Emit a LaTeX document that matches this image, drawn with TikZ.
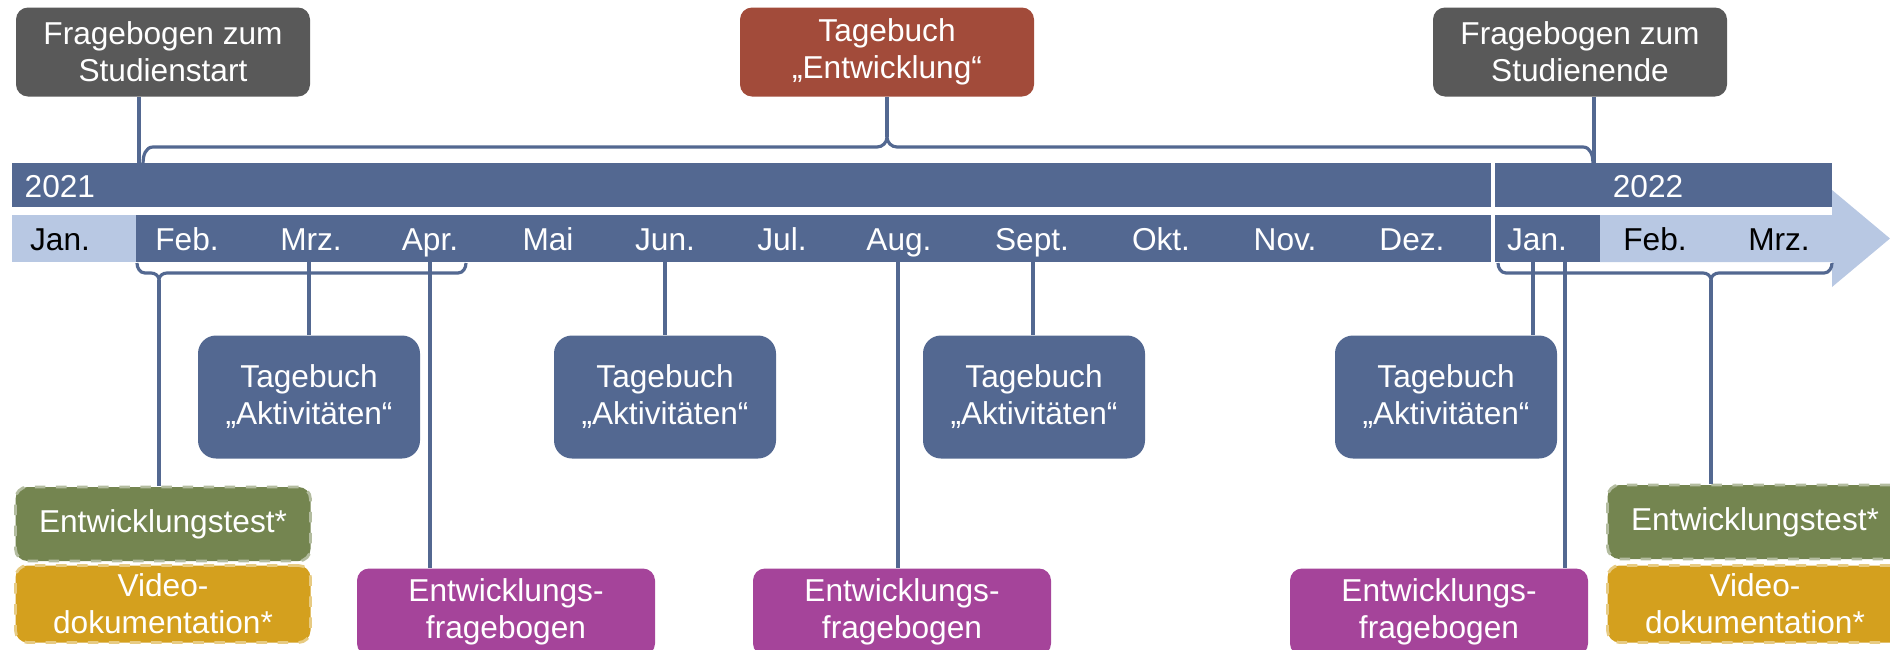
\documentclass[tikz,border=0pt]{standalone}
\usepackage{fontspec}
\setmainfont{Liberation Sans}
\definecolor{barblue}{RGB}{83, 104, 145}
\definecolor{paleblue}{RGB}{184, 200, 227}
\definecolor{boxgray}{RGB}{89, 89, 89}
\definecolor{rust}{RGB}{162, 75, 58}
\definecolor{mossgreen}{RGB}{116, 133, 80}
\definecolor{mustard}{RGB}{212, 160, 30}
\definecolor{plum}{RGB}{165, 68, 154}
\tikzset{
  lbl/.style={font=\fontsize{9}{10.5}\selectfont, inner sep=0pt},
  tick/.style={lbl, anchor=base},
  infobox/.style={lbl, align=center, text=white, rounded corners=1.2mm, minimum width=2.94cm, minimum height=0.89cm},
  diarybox/.style={infobox, fill=barblue, rounded corners=1.8mm, minimum width=2.22cm, minimum height=1.23cm},
  quizbox/.style={infobox, fill=plum, minimum width=2.98cm, minimum height=0.87cm},
  optbox/.style={infobox, dashed, line width=0.8pt, minimum width=2.95cm},
  link/.style={draw=barblue, line width=0.9pt}
}

\begin{document}
\begin{tikzpicture}
            \useasboundingbox (0.00, 0.00) rectangle (18.90,-6.49);
            \fill[barblue]  ( 0.12,-1.63) rectangle (14.91,-2.07);
            \fill[barblue]  (14.95,-1.63) rectangle (18.32,-2.07);
            \fill[paleblue] ( 0.12,-2.15) rectangle ( 1.36,-2.62);
            \fill[barblue]  ( 1.36,-2.15) rectangle (14.91,-2.62);
            \fill[barblue]  (14.95,-2.15) rectangle (16.00,-2.62);
            \fill[paleblue] (16.00,-2.15) -- (18.32,-2.15) -- (18.32,-1.90) -- (18.90,-2.385) -- (18.32,-2.87) -- (18.32,-2.62) -- (16.00,-2.62) -- cycle;

            \node[tick, anchor=base west, text=white] (yr21)  at ( 0.24,-1.97) {2021};
            \node[tick, text=white]                   (yr22)  at (16.48,-1.97) {2022};
            \node[tick]                               (jan21) at ( 0.60,-2.50) {Jan.};
            \node[tick, text=white]                   (feb21) at ( 1.87,-2.50) {Feb.};
            \node[tick, text=white]                   (mrz21) at ( 3.11,-2.50) {Mrz.};
            \node[tick, text=white]                   (apr21) at ( 4.30,-2.50) {Apr.};
            \node[tick, text=white]                   (mai21) at ( 5.48,-2.50) {Mai};
            \node[tick, text=white]                   (jun21) at ( 6.65,-2.50) {Jun.};
            \node[tick, text=white]                   (jul21) at ( 7.82,-2.50) {Jul.};
            \node[tick, text=white]                   (aug21) at ( 8.99,-2.50) {Aug.};
            \node[tick, text=white]                   (sep21) at (10.32,-2.50) {Sept.};
            \node[tick, text=white]                   (okt21) at (11.61,-2.50) {Okt.};
            \node[tick, text=white]                   (nov21) at (12.85,-2.50) {Nov.};
            \node[tick, text=white]                   (dez21) at (14.12,-2.50) {Dez.};
            \node[tick, text=white]                   (jan22) at (15.37,-2.50) {Jan.};
            \node[tick]                               (feb22) at (16.55,-2.50) {Feb.};
            \node[tick]                               (mrz22) at (17.79,-2.50) {Mrz.};

            \node[infobox, fill=boxgray] (studstart) at ( 1.63,-0.52) {Fragebogen zum\\Studienstart};
            \node[infobox, fill=rust]    (entw)      at ( 8.87,-0.52) {Tagebuch\\„Entwicklung“};
            \node[infobox, fill=boxgray] (studend)   at (15.80,-0.52) {Fragebogen zum\\Studienende};

            \node[diarybox] (tage1) at ( 3.09,-3.97) {Tagebuch\\„Aktivitäten“};
            \node[diarybox] (tage2) at ( 6.65,-3.97) {Tagebuch\\„Aktivitäten“};
            \node[diarybox] (tage3) at (10.34,-3.97) {Tagebuch\\„Aktivitäten“};
            \node[diarybox] (tage4) at (14.46,-3.97) {Tagebuch\\„Aktivitäten“};

            \node[quizbox] (bogen1) at ( 5.06,-6.12) {Entwicklungs-\\fragebogen};
            \node[quizbox] (bogen2) at ( 9.02,-6.12) {Entwicklungs-\\fragebogen};
            \node[quizbox] (bogen3) at (14.39,-6.12) {Entwicklungs-\\fragebogen};

            \node[optbox, fill=mossgreen, draw=mossgreen!55!white, minimum height=0.74cm] (test1)  at ( 1.63,-5.24) {Entwicklungstest*};
            \node[optbox, fill=mustard,   draw=mustard!55!white,   minimum height=0.77cm] (video1) at ( 1.63,-6.04) {Video-\\dokumentation*};
            \node[optbox, fill=mossgreen, draw=mossgreen!55!white, minimum height=0.74cm] (test2)  at (17.55,-5.22) {Entwicklungstest*};
            \node[optbox, fill=mustard,   draw=mustard!55!white,   minimum height=0.77cm] (video2) at (17.55,-6.04) {Video-\\dokumentation*};

            \coordinate (tkstart)  at ( 1.39,-1.63);
            \coordinate (tkend)    at (15.94,-1.63);
            \coordinate (bracetop) at ( 8.87,-1.37);
            \coordinate (brfeb)    at ( 1.59,-2.80);
            \coordinate (rowmrz)   at ( 3.09,-2.62);
            \coordinate (rowapr)   at ( 4.30,-2.62);
            \coordinate (rowjun)   at ( 6.65,-2.62);
            \coordinate (rowaug)   at ( 8.98,-2.62);
            \coordinate (rowsep)   at (10.33,-2.62);
            \coordinate (rowjana)  at (15.33,-2.62);
            \coordinate (rowjanb)  at (15.65,-2.62);
            \coordinate (br22)     at (17.11,-2.80);

            \draw[link] ( 1.43,-1.63) to[out=90,in=180] ( 1.53,-1.47) -- ( 8.77,-1.47) to[out=0,in=-90] (bracetop)
                        to[out=-90,in=180] ( 8.97,-1.47) -- (15.83,-1.47) to[out=0,in=90] (15.93,-1.63);
            \draw[link] ( 1.37,-2.63) to[out=-90,in=180] ( 1.45,-2.73) -- ( 1.51,-2.73) to[out=0,in=90] (brfeb)
                        to[out=90,in=180] ( 1.67,-2.73) -- ( 4.58,-2.73) to[out=0,in=-90] ( 4.66,-2.63);
            \draw[link] (14.98,-2.63) to[out=-90,in=180] (15.06,-2.73) -- (17.03,-2.73) to[out=0,in=90] (br22)
                        to[out=90,in=180] (17.19,-2.73) -- (18.24,-2.73) to[out=0,in=-90] (18.32,-2.63);
            \draw[link] (studstart.south -| tkstart) -- (tkstart);
            \draw[link] (studend.south -| tkend)     -- (tkend);
            \draw[link] (entw.south) -- (bracetop);
            \draw[link] (brfeb)   -- (brfeb   |- test1.north);
            \draw[link] (rowmrz)  -- (rowmrz  |- tage1.north);
            \draw[link] (rowapr)  -- (rowapr  |- bogen1.north);
            \draw[link] (rowjun)  -- (rowjun  |- tage2.north);
            \draw[link] (rowaug)  -- (rowaug  |- bogen2.north);
            \draw[link] (rowsep)  -- (rowsep  |- tage3.north);
            \draw[link] (rowjana) -- (rowjana |- tage4.north);
            \draw[link] (rowjanb) -- (rowjanb |- bogen3.north);
            \draw[link] (br22)    -- (br22    |- test2.north);
            \end{tikzpicture}
\end{document}
